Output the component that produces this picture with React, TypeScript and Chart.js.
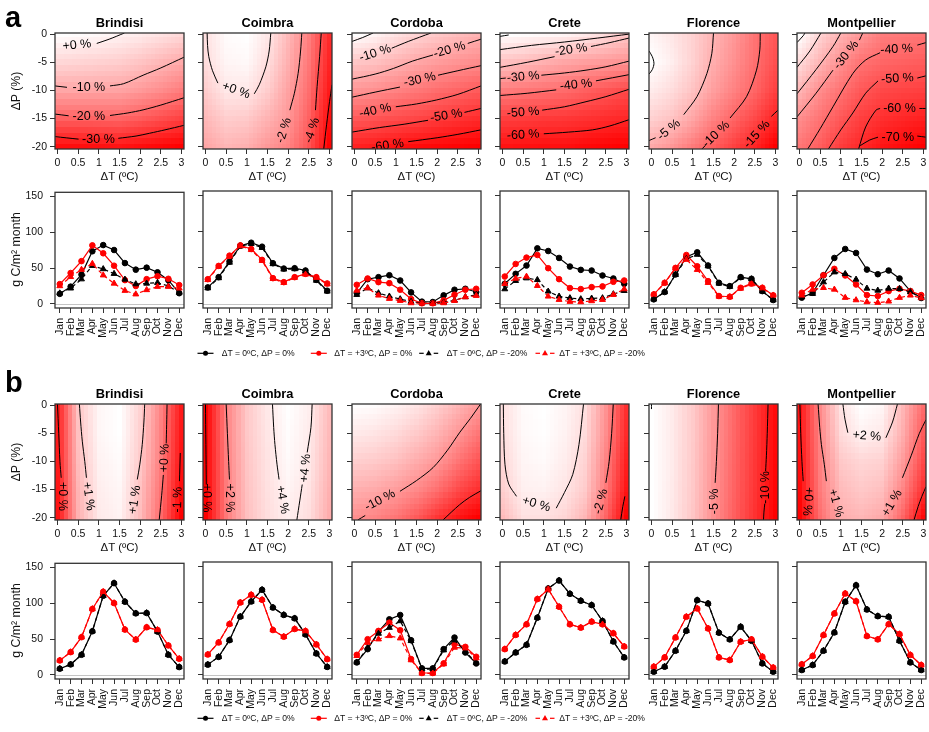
import React, { useEffect, useRef } from "react";
import { Chart, registerables } from "chart.js";

Chart.register(...registerables);

const FONT = "'Liberation Sans', Arial, Helvetica, sans-serif";

// ---------------- categories & ticks ----------------
const CITIES = ["Brindisi", "Coimbra", "Cordoba", "Crete", "Florence", "Montpellier"];
const MONTHS = ["Jan", "Feb", "Mar", "Apr", "May", "Jun", "Jul", "Aug", "Sep", "Oct", "Nov", "Dec"];
const DT_TICKS = [0, 0.5, 1, 1.5, 2, 2.5, 3];
const DP_TICKS = [0, -5, -10, -15, -20];
const GPP_TICKS = [0, 50, 100, 150];
const LEGEND_LABELS = ["ΔT = 0ºC, ΔP = 0%", "ΔT = +3ºC, ΔP = 0%", "ΔT = 0ºC, ΔP = -20%", "ΔT = +3ºC, ΔP = -20%"];

// ---------------- response surfaces (% change), rows = ΔP 0..-20, cols = ΔT 0..3 ----------------
const aBrindisiGrid = [
  [2, 1.5, 1, 0, -1, -2.5, -4],
  [-4, -4.5, -5, -5.5, -7, -9, -11],
  [-11.5, -11.5, -11.8, -12, -13.5, -15.5, -18],
  [-22, -22, -21.7, -21.5, -23, -25, -27],
  [-35, -35, -34.5, -34, -35, -36, -37],
];
const aCoimbraGrid = [
  [0, 0.8, 0.9, 0.2, -1.2, -3.0, -5.5],
  [-0.1, 0.6, 0.7, -0.1, -1.5, -3.2, -5.7],
  [-0.6, 0.2, 0.2, -0.6, -1.9, -3.5, -6.0],
  [-1.2, -0.6, -0.7, -1.4, -2.2, -3.9, -6.4],
  [-1.8, -1.3, -1.5, -2.2, -2.8, -4.3, -6.8],
];
const aCordobaGrid = [
  [3, 0, -5, -9, -12, -15, -18],
  [-12.5, -14, -17.5, -21, -24, -26.5, -28.5],
  [-26, -28, -31, -34, -37, -39.5, -42],
  [-42.5, -44, -46, -48, -50.5, -53, -55],
  [-58, -59.5, -62, -64, -65, -66, -67],
];
const aCreteGrid = [
  [-1, -2, -3, -4, -7, -11, -16],
  [-17.5, -19.5, -22.5, -25, -27, -28.5, -30],
  [-36.5, -38, -39.5, -41, -44, -47, -50],
  [-53, -53.5, -54.5, -55, -56.5, -58, -59.5],
  [-65, -65.5, -66, -66, -67.5, -69, -70],
];
const aFlorenceGrid = [
  [-0.5, -1.5, -3, -5, -7, -9.5, -11.5],
  [0.2, -1, -3, -5.5, -7.5, -9.8, -12],
  [-1.2, -2.2, -4, -6.5, -8.5, -10.5, -13],
  [-3, -4, -6, -8.5, -10.5, -12.5, -15],
  [-5.8, -7, -9, -11, -13, -15, -17.5],
];
const aMontpellierGrid = [
  [3, -10, -20, -28, -36, -37, -38],
  [-8, -19, -30, -39, -42.5, -44, -45.5],
  [-19, -31, -39, -47, -51.5, -53, -54],
  [-31, -38.5, -47, -54.5, -59, -61.5, -63.5],
  [-38, -45, -55, -61, -67, -70, -73],
];
const bBrindisiGrid = [
  [-1.0, 0.95, 1.5, 1.6, 1.1, 0.2, -1.0],
  [-1.0, 0.9, 1.5, 1.6, 1.05, 0.15, -1.05],
  [-1.0, 0.85, 1.45, 1.55, 1.0, 0.1, -1.1],
  [-1.05, 0.75, 1.4, 1.5, 0.9, 0.0, -1.2],
  [-1.1, 0.7, 1.35, 1.45, 0.85, -0.1, -1.3],
];
const bCoimbraGrid = [
  [-0.3, 2.0, 3.3, 3.9, 4.3, 4.0, 3.1],
  [-0.3, 2.0, 3.3, 3.85, 4.25, 3.95, 3.05],
  [-0.3, 1.95, 3.25, 3.8, 4.2, 3.9, 3.0],
  [-0.3, 1.9, 3.2, 3.75, 4.1, 3.8, 2.9],
  [-0.3, 1.85, 3.15, 3.7, 4.0, 3.7, 2.8],
];
const bCordobaGrid = [
  [0, -0.3, -1.2, -2.5, -4.5, -7, -9.5],
  [-2, -2.5, -3.5, -5, -7, -9.8, -12.8],
  [-4.5, -5, -6, -7.8, -9.7, -13, -16],
  [-7.5, -8, -9.3, -11, -13.5, -17, -19.5],
  [-10.5, -11.5, -13, -15.5, -19, -22, -24],
];
const bCreteGrid = [
  [-0.1, 0.4, 0.5, 0.3, -0.1, -1.6, -3.5],
  [-0.15, 0.38, 0.48, 0.25, -0.2, -1.7, -3.6],
  [-0.25, 0.3, 0.4, 0.15, -0.35, -1.9, -3.8],
  [-0.4, 0.2, 0.25, 0, -0.5, -2.1, -4.0],
  [-0.8, -0.1, -0.1, -0.3, -0.9, -2.5, -4.4],
];
const bFlorenceGrid = [
  [0, -0.9, -2.4, -4.6, -6.8, -8.9, -11],
  [0, -0.9, -2.4, -4.65, -6.85, -8.95, -11.1],
  [0, -0.9, -2.45, -4.75, -6.95, -9.05, -11.2],
  [0, -0.95, -2.5, -4.85, -7.05, -9.15, -11.3],
  [0, -1.0, -2.6, -5.0, -7.2, -9.3, -11.5],
];
const bMontpellierGrid = [
  [-0.3, 1.0, 2.0, 2.3, 2.2, 1.5, 0.7],
  [-0.3, 0.95, 1.9, 2.15, 2.05, 1.4, 0.5],
  [-0.35, 0.9, 1.7, 1.85, 1.8, 1.2, 0.3],
  [-0.4, 0.85, 1.55, 1.7, 1.6, 0.95, 0.05],
  [-0.5, 0.7, 1.4, 1.5, 1.35, 0.6, -0.4],
];

// ---------------- contour lines [ΔT, ΔP] and contour labels [text, ΔT, ΔP, angle] ----------------
const aBrindisiSegs = [
  [[0.95, -1.65], [1.25, -0.9], [1.62, 0.2]],
  [[-0.06, -9.2], [0.23, -9.45]],
  [[1.27, -9.2], [1.6, -8.8], [2.07, -7.3], [2.5, -6.0], [3.06, -4.1]],
  [[-0.06, -14.2], [0.27, -14.5]],
  [[1.27, -14.45], [1.7, -14.0], [2.07, -13.45], [2.5, -12.6], [3.06, -11.3]],
  [[-0.06, -18.2], [0.51, -18.65]],
  [[1.47, -18.5], [1.9, -18.1], [2.23, -17.6], [2.6, -17.0], [3.06, -16.2]],
];
const aBrindisiLabels = [["+0 %", 0.47, -1.95, -6], ["-10 %", 0.76, -9.55, 0], ["-20 %", 0.76, -14.6, 0], ["-30 %", 0.99, -18.65, 0]];

const aCoimbraSegs = [
  [[0.04, 0.2], [0.05, -2], [0.08, -4], [0.17, -6.5], [0.3, -8.7]],
  [[1.18, -10.6], [1.3, -9], [1.46, -5.8], [1.54, -3], [1.58, 0.2]],
  [[2.33, 0.2], [2.3, -3], [2.24, -7], [2.15, -10.5], [2.04, -13.5]],
  [[2.8, 0.2], [2.76, -4], [2.7, -9.3], [2.66, -13.5]],
  [[2.86, -20.4], [2.93, -16], [3.0, -12], [3.06, -9]],
];
const aCoimbraLabels = [["+0 %", 0.74, -10, 20], ["-2 %", 1.9, -17.1, -72], ["-4 %", 2.58, -17.1, -72]];

const aCordobaSegs = [
  [[-0.06, -1.3], [0.2, -0.6], [0.45, 0.2]],
  [[0.9, -2.5], [1.3, -1.3], [1.85, 0.2]],
  [[-0.06, -8.0], [0.5, -7.1], [0.94, -6.1], [1.4, -4.8], [1.9, -3.7]],
  [[2.74, -1.65], [3.06, -0.9]],
  [[-0.06, -11.2], [0.5, -10.3], [1.1, -9.4]],
  [[2.02, -7.3], [2.5, -6.5], [3.06, -5.6]],
  [[1.0, -12.9], [1.5, -12.4], [1.98, -11.7], [2.5, -10.7], [3.06, -9.2]],
  [[-0.06, -17.4], [0.6, -16.6], [1.2, -16.0], [1.78, -15.3]],
  [[2.66, -13.9], [3.06, -13.2]],
  [[1.3, -19.1], [2.0, -18.4], [2.5, -17.8], [3.06, -17.0]],
];
const aCordobaLabels = [["-10 %", 0.5, -3.4, -18], ["-20 %", 2.3, -2.8, -16], ["-30 %", 1.58, -8.1, -12], ["-40 %", 0.5, -13.6, -12], ["-50 %", 2.22, -14.5, -9], ["-60 %", 0.8, -19.8, -8]];

const aCreteSegs = [
  [[-0.06, -0.4], [0.15, -0.15]],
  [[-0.06, -2.75], [0.7, -2.0], [1.5, -1.4], [2.3, -0.7], [3.06, 0.0]],
  [[-0.06, -5.9], [0.6, -5.0], [1.26, -4.0]],
  [[2.14, -2.2], [2.6, -1.5], [3.06, -0.7]],
  [[-0.06, -7.9], [0.08, -7.8]],
  [[0.94, -7.3], [1.5, -6.9], [2.02, -6.4], [2.5, -5.8], [3.06, -4.8]],
  [[-0.06, -10.9], [0.6, -10.5], [1.3, -9.9]],
  [[2.26, -8.3], [3.06, -7.2]],
  [[0.96, -13.5], [1.5, -12.9], [2.02, -12.0], [2.5, -11.1], [3.06, -9.8]],
  [[1.0, -17.7], [1.6, -17.4], [2.18, -17.0], [2.6, -16.3], [3.06, -15.2]],
];
const aCreteLabels = [["-20 %", 1.66, -2.8, -8], ["-30 %", 0.5, -7.6, -5], ["-40 %", 1.78, -9.0, -6], ["-50 %", 0.5, -13.9, -4], ["-60 %", 0.5, -17.9, -3]];

const aFlorenceSegs = [
  [[-0.06, -3.0], [0.02, -4.0], [0.06, -5.2], [0.02, -6.3], [-0.06, -7.1]],
  [[-0.06, -18.9], [0.1, -18.4]],
  [[0.78, -14.3], [1.1, -11.1], [1.34, -7.0], [1.46, -3.4], [1.5, 0.2]],
  [[1.22, -20.4], [1.3, -19.8]],
  [[1.9, -14.9], [2.3, -11.1], [2.54, -6.4], [2.62, -2.8], [2.63, 0.2]],
  [[2.9, -14.6], [3.06, -13.5]],
];
const aFlorenceLabels = [["-5 %", 0.42, -17.0, -40], ["-10 %", 1.56, -17.8, -44], ["-15 %", 2.55, -17.8, -48]];

const aMontpellierSegs = [
  [[-0.06, -1.5], [0.1, -0.2], [0.13, 0.2]],
  [[-0.06, -5.9], [0.25, -3.0], [0.52, 0.2]],
  [[-0.06, -10.6], [0.4, -6.3], [0.81, -2.2], [1.0, 0.2]],
  [[-0.06, -14.7], [0.4, -10.5], [0.81, -6.4]],
  [[1.45, -1.06], [1.53, 0.2]],
  [[0.2, -20.4], [0.5, -16.8], [0.81, -12.9], [1.29, -7.0], [1.6, -4.6], [1.95, -3.3]],
  [[2.85, -1.95], [3.06, -1.5]],
  [[0.7, -20.4], [1.0, -17.0], [1.29, -14.0], [1.6, -10.5], [1.9, -8.3]],
  [[2.85, -7.8], [3.06, -7.4]],
  [[1.43, -20.4], [1.6, -16.5], [1.85, -13.5], [1.95, -13.2]],
  [[2.9, -13.2], [3.06, -13.2]],
  [[1.47, -19.8], [1.7, -18.8], [1.9, -18.3]],
  [[2.85, -18.1], [3.06, -18.3]],
];
const aMontpellierLabels = [["-30 %", 1.13, -3.7, -52], ["-40 %", 2.35, -2.7, -3], ["-50 %", 2.37, -7.9, -3], ["-60 %", 2.42, -13.2, 0], ["-70 %", 2.38, -18.3, 0]];

const bBrindisiSegs = [
  [[0.0, 0.2], [0.03, -5], [0.06, -10], [0.09, -12.9]],
  [[0.53, 0.2], [0.56, -3], [0.6, -6.4], [0.66, -10], [0.7, -12.9]],
  [[2.11, 0.2], [2.09, -3], [2.05, -7], [1.99, -10.6], [1.93, -13.2]],
  [[2.65, 0.2], [2.64, -3.5], [2.63, -6.8]],
  [[2.56, -12.4], [2.52, -16], [2.46, -20.4]],
  [[2.97, -8.5], [2.96, -11], [2.95, -13.5]],
];
const bBrindisiLabels = [["+0 %", 0.11, -16.2, 90], ["+1 %", 0.75, -16.2, 82], ["+1 %", 1.87, -16.8, -82], ["+0 %", 2.59, -9.4, -88], ["-1 %", 2.91, -16.8, -88]];

const bCoimbraSegs = [
  [[0.0, 0.2], [0.01, -7], [0.02, -14.1]],
  [[0.5, 0.2], [0.53, -5], [0.56, -10], [0.58, -13.2]],
  [[1.62, 0.2], [1.65, -4], [1.68, -7], [1.73, -10.5], [1.78, -13.2]],
  [[2.58, 0.2], [2.55, -4], [2.46, -8.4]],
  [[2.34, -14.1], [2.28, -17], [2.21, -20.4]],
];
const bCoimbraLabels = [["+0 %", 0.03, -16.5, 90], ["+2 %", 0.59, -16.5, 90], ["+4 %", 1.86, -16.8, 80], ["+4 %", 2.42, -11.2, -85]];

const bCordobaSegs = [
  [[0.08, -20.4], [0.26, -19.6]],
  [[1.1, -15.3], [1.5, -13.4], [1.9, -11.1], [2.25, -8.0], [2.55, -4.8], [2.8, -2.4], [3.06, 0.3]],
  [[2.14, -20.4], [2.54, -17.7], [2.78, -16.4], [3.06, -15.2]],
];
const bCordobaLabels = [["-10 %", 0.62, -16.9, -28]];

const bCreteSegs = [
  [[0.02, 0.2], [0.03, -5], [0.06, -10.5], [0.15, -14], [0.34, -16.2]],
  [[1.3, -18.3], [1.5, -15.5], [1.7, -12.3], [1.85, -7], [1.96, 0.2]],
  [[2.68, 0.2], [2.64, -5], [2.58, -10], [2.5, -13.8]],
  [[2.86, -20.4], [2.91, -18], [2.96, -16.2]],
];
const bCreteLabels = [["+0 %", 0.82, -17.6, 16], ["-2 %", 2.38, -17.1, -75]];

const bFlorenceSegs = [
  [[0.0, 0.2], [0.0, -0.7]],
  [[1.62, 0.2], [1.6, -5], [1.57, -10], [1.54, -13.8]],
  [[2.82, 0.2], [2.8, -5], [2.78, -9], [2.76, -11.7]],
  [[2.74, -17.5], [2.72, -19], [2.71, -20.4]],
];
const bFlorenceLabels = [["-5 %", 1.52, -17.1, -90], ["-10 %", 2.76, -14.6, -90]];

const bMontpellierSegs = [
  [[0.01, 0.2], [0.03, -5], [0.06, -10], [0.09, -13.5]],
  [[0.45, 0.2], [0.49, -4], [0.53, -7], [0.6, -10.5], [0.65, -13.5]],
  [[1.05, 0.2], [1.1, -2.5], [1.17, -4.9]],
  [[2.09, -5.8], [2.25, -3], [2.37, 0.2]],
  [[2.49, -12.9], [2.7, -9], [2.9, -5], [3.06, -2.6]],
  [[2.77, -20.4], [2.87, -18], [2.96, -16.2], [3.06, -14.5]],
];
const bMontpellierLabels = [["+0 %", 0.2, -17.1, 95], ["+1 %", 0.88, -17.4, 75], ["+2 %", 1.63, -5.5, 5], ["+1 %", 2.24, -17.4, -60]];

// ---------------- monthly GPP (g C/m2 month) ----------------
// base: ΔT=0,ΔP=0 ; warm: ΔT=+3,ΔP=0 ; dry: ΔT=0,ΔP=-20 ; warmDry: ΔT=+3,ΔP=-20
const aBrindisiBase = [13.8, 23.9, 40.8, 73.4, 82.1, 75.2, 56.9, 47.7, 50.5, 44, 33, 14.7];
const aBrindisiWarm = [27.5, 43, 59.6, 81.7, 70.6, 53.2, 33, 24.8, 34.4, 38.5, 34.9, 26.1];
const aBrindisiDry = [14.7, 21.6, 34.4, 53.2, 48.6, 42, 34, 27.5, 28.4, 29.4, 24.8, 15.6];
const aBrindisiWarmDry = [24.8, 37.6, 47.7, 56, 39.9, 28.4, 18.3, 13.3, 19.3, 23.9, 23.9, 21.6];

const aCoimbraBase = [22.5, 36.7, 58.3, 80.3, 84.4, 78.9, 56, 48.6, 49.1, 45.9, 33, 17.9];
const aCoimbraWarm = [33.9, 52.3, 66.5, 80.7, 75.7, 60.6, 35.3, 29.8, 36.7, 41.3, 36.7, 28];
const aCoimbraDry = [21.5, 35.5, 57, 79.5, 83, 77.5, 55, 47.5, 48, 45, 32, 17];
const aCoimbraWarmDry = [33, 51.5, 65.5, 80, 74.5, 59.5, 34.5, 29, 36, 40.5, 36, 27];

const aCordobaBase = [14.7, 33.9, 36.7, 39.4, 32.1, 15.6, 2.8, 2.3, 11.5, 19.3, 20.6, 16.1];
const aCordobaWarm = [26.1, 34.9, 29.8, 28.4, 19.3, 6.4, 0.5, 0.5, 4.6, 12.4, 19.3, 20.6];
const aCordobaDry = [12.4, 21.6, 14.7, 10.1, 6.4, 2.8, 0.9, 0.9, 1.8, 4.6, 9.2, 12.4];
const aCordobaWarmDry = [18.3, 21.6, 11.5, 6.9, 4.1, 0.9, 0.5, 0, 0.9, 4.1, 9.2, 11];

const aCreteBase = [27.5, 41.3, 52.8, 76.6, 72.9, 63.3, 51.4, 46.8, 45.9, 39, 34.9, 27.5];
const aCreteWarm = [37.6, 55, 63.8, 67.4, 49.1, 33.9, 21.6, 20.2, 22.9, 23.9, 30.3, 32.1];
const aCreteDry = [20.2, 31.7, 35.3, 33, 17, 10.1, 7.8, 6.4, 7.3, 7.8, 13.3, 17.9];
const aCreteWarmDry = [27.5, 34.9, 37.6, 24.8, 10.1, 5.5, 2.8, 2.3, 3.7, 5.5, 12.4, 20.2];

const aFlorenceBase = [6, 16.1, 40.4, 64.7, 71.1, 52.8, 28.9, 24.3, 36.7, 34.4, 17.4, 5];
const aFlorenceWarm = [12.8, 28.9, 49.5, 67.4, 51.8, 31.2, 10.6, 9.6, 22, 28, 22, 11.5];
const aFlorenceDry = [6, 16.1, 40, 62, 68, 52, 28, 23.5, 36, 34, 17, 5];
const aFlorenceWarmDry = [12.8, 28.5, 49, 61, 47, 29, 10, 9.2, 21, 27, 21.5, 11.5];

const aMontpellierBase = [8.3, 15.1, 39.4, 63.3, 75.7, 70.2, 47.2, 40.8, 45.9, 34.9, 17.4, 7.8];
const aMontpellierWarm = [15.1, 26.6, 39.4, 48.2, 39, 26.6, 11.9, 10.6, 17.4, 20.6, 17.4, 11.9];
const aMontpellierDry = [9.6, 13.8, 29.8, 43.6, 41.3, 33.5, 21.1, 18.3, 21.1, 20.6, 16.1, 8.3];
const aMontpellierWarmDry = [11.5, 19.7, 22, 19.7, 8.3, 5, 2.3, 1.4, 3.2, 8.3, 11.5, 7.8];

const bBrindisiBase = [8.4, 14.4, 27.9, 60.8, 110.5, 128.2, 102.2, 85.9, 86.4, 60.4, 27.9, 10.7];
const bBrindisiWarm = [20, 31.6, 52.5, 92, 116.1, 100.3, 63.2, 49.2, 66.4, 62.7, 40.9, 22.3];
const bCoimbraBase = [13.9, 24.6, 47.8, 80.4, 101.3, 117.5, 92.9, 82.7, 78, 55.7, 29.3, 10.7];
const bCoimbraWarm = [27.9, 44.6, 70.1, 99.9, 110.5, 103.6, 61.8, 52.5, 63.2, 60.4, 41.8, 21.4];
const bCordobaBase = [17, 35.3, 59.6, 76.6, 82.6, 47.7, 8.7, 8.7, 35.3, 51.4, 30.7, 15.6];
const bCordobaWarm = [27.5, 49.1, 60.6, 72, 61.5, 21.6, 2.3, 2.3, 15.6, 42.2, 38.5, 24.8];
const bCordobaDry = [17, 37.6, 56.9, 65.1, 74.3, 46.8, 7.8, 7.8, 33.9, 47.7, 32.1, 16.5];
const bCordobaWarmDry = [26.1, 44.5, 49.1, 53.7, 50.5, 20.2, 1.8, 1.8, 14.7, 37.6, 36.7, 22.9];
const bCreteBase = [18.3, 30.7, 41.3, 78.9, 119.3, 130.3, 111.9, 102.3, 96.3, 74.3, 45.9, 23.9];
const bCreteWarm = [35.3, 55, 69.7, 104.6, 118.3, 94, 69.7, 65.1, 73.4, 69.7, 57.3, 39];
const bFlorenceBase = [4.1, 11, 33.1, 60.7, 103.1, 98.5, 58, 48.8, 66.3, 46.9, 15.6, 4.1];
const bFlorenceWarm = [11, 23.9, 51.5, 80.1, 91.6, 64, 23.9, 20.2, 45.6, 48.8, 24.9, 9.7];
const bMontpellierBase = [6.4, 13.3, 33.1, 58.4, 100.8, 123.8, 90.2, 81, 80.1, 46.9, 17, 6.4];
const bMontpellierWarm = [14.3, 25.8, 54.8, 84.7, 112.3, 101.7, 53.4, 48.8, 69.9, 56.1, 27.2, 13.3];

// ---------------- panel tables ----------------
const HEAT_A = [
  { grid: aBrindisiGrid, segs: aBrindisiSegs, labels: aBrindisiLabels },
  { grid: aCoimbraGrid, segs: aCoimbraSegs, labels: aCoimbraLabels },
  { grid: aCordobaGrid, segs: aCordobaSegs, labels: aCordobaLabels },
  { grid: aCreteGrid, segs: aCreteSegs, labels: aCreteLabels },
  { grid: aFlorenceGrid, segs: aFlorenceSegs, labels: aFlorenceLabels },
  { grid: aMontpellierGrid, segs: aMontpellierSegs, labels: aMontpellierLabels },
];
const HEAT_B = [
  { grid: bBrindisiGrid, segs: bBrindisiSegs, labels: bBrindisiLabels },
  { grid: bCoimbraGrid, segs: bCoimbraSegs, labels: bCoimbraLabels },
  { grid: bCordobaGrid, segs: bCordobaSegs, labels: bCordobaLabels },
  { grid: bCreteGrid, segs: bCreteSegs, labels: bCreteLabels },
  { grid: bFlorenceGrid, segs: bFlorenceSegs, labels: bFlorenceLabels },
  { grid: bMontpellierGrid, segs: bMontpellierSegs, labels: bMontpellierLabels },
];
const LINE_A = [
  { base: aBrindisiBase, warm: aBrindisiWarm, dry: aBrindisiDry, warmDry: aBrindisiWarmDry },
  { base: aCoimbraBase, warm: aCoimbraWarm, dry: aCoimbraDry, warmDry: aCoimbraWarmDry },
  { base: aCordobaBase, warm: aCordobaWarm, dry: aCordobaDry, warmDry: aCordobaWarmDry },
  { base: aCreteBase, warm: aCreteWarm, dry: aCreteDry, warmDry: aCreteWarmDry },
  { base: aFlorenceBase, warm: aFlorenceWarm, dry: aFlorenceDry, warmDry: aFlorenceWarmDry },
  { base: aMontpellierBase, warm: aMontpellierWarm, dry: aMontpellierDry, warmDry: aMontpellierWarmDry },
];
const LINE_B = [
  { base: bBrindisiBase, warm: bBrindisiWarm, dry: bBrindisiBase, warmDry: bBrindisiWarm },
  { base: bCoimbraBase, warm: bCoimbraWarm, dry: bCoimbraBase, warmDry: bCoimbraWarm },
  { base: bCordobaBase, warm: bCordobaWarm, dry: bCordobaDry, warmDry: bCordobaWarmDry },
  { base: bCreteBase, warm: bCreteWarm, dry: bCreteBase, warmDry: bCreteWarm },
  { base: bFlorenceBase, warm: bFlorenceWarm, dry: bFlorenceBase, warmDry: bFlorenceWarm },
  { base: bMontpellierBase, warm: bMontpellierWarm, dry: bMontpellierBase, warmDry: bMontpellierWarm },
];

// ---------------- layout ----------------
const COL_X = [55, 203, 352, 500, 649, 797];
const BOX_W = 129;
const HEAT_H = 116;
const LINE_H = 117;
const TOP_HEAT_A = 33;
const TOP_LINE_A = 191;
const TOP_HEAT_B = 404;
const TOP_LINE_B = 562;
const PAD_L = 50;
const PAD_T = 12;
const PAD_R = 14;
const HEAT_PAD_B = 22;
const LINE_PAD_B = 32;
const RED = "#ff0000";
const AXIS = "#333";

function fracIndex(nodes: number[], v: number) {
  const n = nodes.length;
  for (let k = 0; k < n - 1; k++) {
    const a = nodes[k], b = nodes[k + 1];
    if (v >= Math.min(a, b) && v <= Math.max(a, b)) return k + (v - a) / (b - a);
  }
  return Math.abs(v - nodes[0]) < Math.abs(v - nodes[n - 1]) ? 0 : n - 1;
}

function fieldAt(grid: number[][], t: number, p: number) {
  const u = fracIndex(DT_TICKS, t);
  const w = fracIndex(DP_TICKS, p);
  const i0 = Math.min(Math.floor(u), DT_TICKS.length - 2);
  const j0 = Math.min(Math.floor(w), DP_TICKS.length - 2);
  const fu = u - i0, fw = w - j0;
  return (
    grid[j0][i0] * (1 - fu) * (1 - fw) +
    grid[j0][i0 + 1] * fu * (1 - fw) +
    grid[j0 + 1][i0] * (1 - fu) * fw +
    grid[j0 + 1][i0 + 1] * fu * fw
  );
}

function boxPlugin() {
  return {
    id: "box",
    afterDraw(chart: any) {
      const { ctx, chartArea: a } = chart;
      ctx.save();
      ctx.strokeStyle = AXIS;
      ctx.lineWidth = 1.3;
      ctx.strokeRect(a.left, a.top, a.right - a.left, a.bottom - a.top);
      ctx.restore();
    },
  };
}

function commonScale(extra: any) {
  return {
    type: "linear",
    grid: { drawOnChartArea: false, tickLength: 5, color: AXIS, lineWidth: 1 },
    border: { display: false },
    ...extra,
  };
}

function heatConfig(panel: any, showY: boolean): any {
  const vals = panel.grid.flat();
  const vmax = Math.max(...vals);
  const vmin = Math.min(...vals);
  const tMin = DT_TICKS[0], tMax = DT_TICKS[DT_TICKS.length - 1];
  const pMax = DP_TICKS[0], pMin = DP_TICKS[DP_TICKS.length - 1];
  const NT = 30, NP = 20;
  const field = {
    id: "field",
    beforeDatasetsDraw(chart: any) {
      const { ctx, chartArea: a, scales } = chart;
      const x = scales.x, y = scales.y;
      const dt = (tMax - tMin) / NT, dp = (pMax - pMin) / NP;
      ctx.save();
      for (let i = 0; i <= NT; i++) {
        const t = tMin + i * dt;
        const xl = Math.round(i === 0 ? a.left : x.getPixelForValue(t - dt / 2));
        const xr = Math.round(i === NT ? a.right : x.getPixelForValue(t + dt / 2));
        for (let j = 0; j <= NP; j++) {
          const p = pMax - j * dp;
          const yt = Math.round(j === 0 ? a.top : y.getPixelForValue(p + dp / 2));
          const yb = Math.round(j === NP ? a.bottom : y.getPixelForValue(p - dp / 2));
          const v = fieldAt(panel.grid, t, p);
          const f = (vmax - v) / (vmax - vmin);
          const g = Math.round(255 * (1 - f));
          ctx.fillStyle = `rgb(255,${g},${g})`;
          ctx.fillRect(xl, yt, xr - xl, yb - yt);
        }
      }
      ctx.restore();
    },
    afterDatasetsDraw(chart: any) {
      const { ctx, chartArea: a, scales } = chart;
      ctx.save();
      ctx.beginPath();
      ctx.rect(a.left, a.top, a.right - a.left, a.bottom - a.top);
      ctx.clip();
      ctx.fillStyle = "#000";
      ctx.font = `12.5px ${FONT}`;
      ctx.textAlign = "center";
      ctx.textBaseline = "middle";
      for (const [txt, t, p, ang] of panel.labels) {
        ctx.save();
        ctx.translate(scales.x.getPixelForValue(t), scales.y.getPixelForValue(p));
        ctx.rotate((ang * Math.PI) / 180);
        ctx.fillText(txt, 0, 0);
        ctx.restore();
      }
      ctx.restore();
    },
  };
  return {
    type: "scatter",
    data: {
      datasets: panel.segs.map((s: number[][]) => ({
        data: s.map(([x, y]) => ({ x, y })),
        showLine: true,
        borderColor: "#000",
        borderWidth: 1,
        pointRadius: 0,
        pointHoverRadius: 0,
        tension: 0.3,
      })),
    },
    options: {
      responsive: false,
      animation: false,
      devicePixelRatio: 1,
      events: [],
      layout: { padding: { left: 0, top: PAD_T, right: PAD_R, bottom: 0 } },
      plugins: { legend: { display: false }, tooltip: { enabled: false } },
      scales: {
        x: commonScale({
          min: -0.06,
          max: 3.06,
          afterBuildTicks: (s: any) => { s.ticks = DT_TICKS.map((v) => ({ value: v })); },
          afterFit: (s: any) => { s.height = HEAT_PAD_B; },
          ticks: { autoSkip: false, maxRotation: 0, minRotation: 0, padding: 3, color: "#111", font: { family: FONT, size: 10.5 }, callback: (v: any) => String(v) },
        }),
        y: commonScale({
          min: -20.4,
          max: 0.2,
          afterBuildTicks: (s: any) => { s.ticks = DP_TICKS.map((v) => ({ value: v })); },
          afterFit: (s: any) => { s.width = PAD_L; },
          ticks: { display: showY, padding: 3, color: "#111", font: { family: FONT, size: 10.5 }, callback: (v: any) => String(v) },
        }),
      },
    },
    plugins: [field, boxPlugin()],
  };
}

function lineConfig(panel: any, showY: boolean): any {
  const pts = (arr: number[]) => arr.map((v, i) => ({ x: i + 1, y: v }));
  const zero = {
    id: "zero",
    beforeDatasetsDraw(chart: any) {
      const { ctx, chartArea: a, scales } = chart;
      const y0 = Math.round(scales.y.getPixelForValue(0)) + 0.5;
      ctx.save();
      ctx.strokeStyle = "#c4c4c4";
      ctx.lineWidth = 1;
      ctx.beginPath();
      ctx.moveTo(a.left, y0);
      ctx.lineTo(a.right, y0);
      ctx.stroke();
      ctx.restore();
    },
  };
  const ds = (data: number[], color: string, style: string, dashed: boolean, order: number) => ({
    data: pts(data),
    borderColor: color,
    backgroundColor: color,
    pointBackgroundColor: color,
    pointBorderColor: color,
    pointBorderWidth: 1,
    pointStyle: style,
    pointRadius: style === "triangle" ? 3.4 : 2.8,
    borderWidth: 1.2,
    borderDash: dashed ? [4, 3] : [],
    tension: 0,
    order,
  });
  return {
    type: "line",
    data: {
      datasets: [
        ds(panel.base, "#000", "circle", false, 4),
        ds(panel.warm, RED, "circle", false, 3),
        ds(panel.dry, "#000", "triangle", true, 2),
        ds(panel.warmDry, RED, "triangle", true, 1),
      ],
    },
    options: {
      responsive: false,
      animation: false,
      devicePixelRatio: 1,
      events: [],
      layout: { padding: { left: 0, top: PAD_T, right: PAD_R, bottom: 0 } },
      plugins: { legend: { display: false }, tooltip: { enabled: false } },
      scales: {
        x: commonScale({
          min: 0.56,
          max: 12.44,
          afterBuildTicks: (s: any) => { s.ticks = MONTHS.map((_, i) => ({ value: i + 1 })); },
          afterFit: (s: any) => { s.height = LINE_PAD_B; },
          ticks: { autoSkip: false, maxRotation: 90, minRotation: 90, padding: 5, color: "#111", font: { family: FONT, size: 10.5 }, callback: (v: any) => MONTHS[Math.round(v) - 1] },
        }),
        y: commonScale({
          min: -6,
          max: 156,
          afterBuildTicks: (s: any) => { s.ticks = GPP_TICKS.map((v) => ({ value: v })); },
          afterFit: (s: any) => { s.width = PAD_L; },
          ticks: { display: showY, padding: 7, color: "#111", font: { family: FONT, size: 10.5 }, callback: (v: any) => String(v) },
        }),
      },
    },
    plugins: [zero, boxPlugin()],
  };
}

function ChartCanvas(props: { left: number; top: number; width: number; height: number; make: () => any }) {
  const ref = useRef<HTMLCanvasElement | null>(null);
  useEffect(() => {
    if (!ref.current) return;
    const chart = new Chart(ref.current, props.make());
    return () => chart.destroy();
  }, []);
  return (
    <canvas
      ref={ref}
      width={props.width}
      height={props.height}
      style={{ position: "absolute", left: props.left, top: props.top, width: props.width, height: props.height }}
    />
  );
}

const LEGEND_SYM_X = [205.5, 318.8, 428.7, 545];
const LEGEND_TEXT_X = [221.7, 334.3, 446.7, 559.3];
const LEGEND_STYLE = [
  { color: "#000", dashed: false, marker: "circle" },
  { color: RED, dashed: false, marker: "circle" },
  { color: "#000", dashed: true, marker: "triangle" },
  { color: RED, dashed: true, marker: "triangle" },
];

function Legend({ y }: { y: number }) {
  const cy = y - 3;
  return (
    <g>
      {LEGEND_LABELS.map((label, k) => {
        const sx = LEGEND_SYM_X[k];
        const st = LEGEND_STYLE[k];
        return (
          <g key={k}>
            {st.dashed ? (
              <>
                <line x1={sx - 9.5} x2={sx - 5} y1={cy} y2={cy} stroke={st.color} strokeWidth={1.2} />
                <line x1={sx + 5} x2={sx + 9.5} y1={cy} y2={cy} stroke={st.color} strokeWidth={1.2} />
              </>
            ) : (
              <line x1={sx - 8} x2={sx + 8} y1={cy} y2={cy} stroke={st.color} strokeWidth={1.2} />
            )}
            {st.marker === "circle" ? (
              <circle cx={sx} cy={cy} r={2.5} fill={st.color} />
            ) : (
              <polygon points={`${sx},${cy - 3.3} ${sx + 3},${cy + 2} ${sx - 3},${cy + 2}`} fill={st.color} />
            )}
            <text x={LEGEND_TEXT_X[k]} y={y} fontSize={8.6} fill="#111">{label}</text>
          </g>
        );
      })}
    </g>
  );
}

function Overlay() {
  const rows = [
    { letter: "a", letterY: 27, titleY: 27.3, heatTop: TOP_HEAT_A, lineTop: TOP_LINE_A, dtY: 180, legendY: 356.3 },
    { letter: "b", letterY: 392, titleY: 398.3, heatTop: TOP_HEAT_B, lineTop: TOP_LINE_B, dtY: 550.5, legendY: 721.3 },
  ];
  return (
    <svg width={929} height={732} style={{ position: "absolute", left: 0, top: 0, pointerEvents: "none" }} fontFamily={FONT}>
      {rows.map((r) => (
        <g key={r.letter}>
          <text x={5} y={r.letterY} fontSize={29} fontWeight="bold" fill="#000">{r.letter}</text>
          {CITIES.map((c, i) => (
            <g key={c}>
              <text x={COL_X[i] + BOX_W / 2} y={r.titleY} textAnchor="middle" fontSize={12.8} fontWeight="bold" fill="#000">{c}</text>
              <text x={COL_X[i] + BOX_W / 2} y={r.dtY} textAnchor="middle" fontSize={11.5} fill="#111">ΔT (ºC)</text>
            </g>
          ))}
          <text transform={`translate(20,${r.heatTop + HEAT_H / 2}) rotate(-90)`} textAnchor="middle" fontSize={12.3} fill="#111">ΔP (%)</text>
          <text transform={`translate(19.5,${r.lineTop + LINE_H / 2}) rotate(-90)`} textAnchor="middle" fontSize={12.3} fill="#111">g C/m² month</text>
          <Legend y={r.legendY} />
        </g>
      ))}
    </svg>
  );
}

export default function App() {
  const heatW = PAD_L + BOX_W + PAD_R;
  return (
    <div style={{ position: "absolute", left: 0, top: 0, width: 929, height: 732, overflow: "hidden", background: "#fff" }}>
      {HEAT_A.map((p, i) => (
        <ChartCanvas key={"ha" + i} left={COL_X[i] - PAD_L} top={TOP_HEAT_A - PAD_T} width={heatW} height={PAD_T + HEAT_H + HEAT_PAD_B} make={() => heatConfig(p, i === 0)} />
      ))}
      {LINE_A.map((p, i) => (
        <ChartCanvas key={"la" + i} left={COL_X[i] - PAD_L} top={TOP_LINE_A - PAD_T} width={heatW} height={PAD_T + LINE_H + LINE_PAD_B} make={() => lineConfig(p, i === 0)} />
      ))}
      {HEAT_B.map((p, i) => (
        <ChartCanvas key={"hb" + i} left={COL_X[i] - PAD_L} top={TOP_HEAT_B - PAD_T} width={heatW} height={PAD_T + HEAT_H + HEAT_PAD_B} make={() => heatConfig(p, i === 0)} />
      ))}
      {LINE_B.map((p, i) => (
        <ChartCanvas key={"lb" + i} left={COL_X[i] - PAD_L} top={TOP_LINE_B - PAD_T} width={heatW} height={PAD_T + LINE_H + LINE_PAD_B} make={() => lineConfig(p, i === 0)} />
      ))}
      <Overlay />
    </div>
  );
}
